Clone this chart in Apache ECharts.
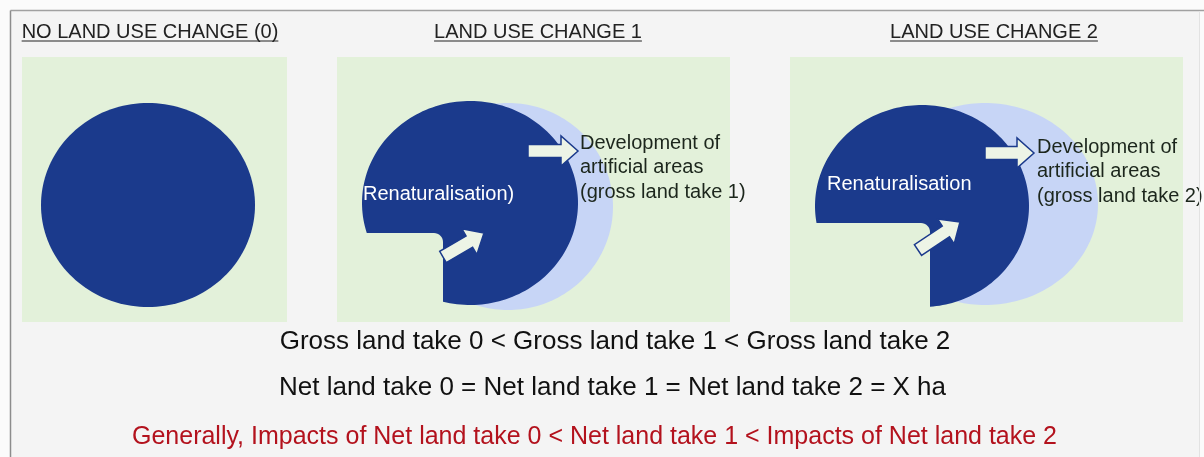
<!DOCTYPE html>
<html><head><meta charset="utf-8">
<script src="https://cdn.jsdelivr.net/npm/echarts@6/dist/echarts.min.js"></script>
<style>html,body{margin:0;padding:0;background:#fbfbfb}#c{width:1204px;height:457px}</style>
</head><body><div id="c"></div>
<script>
// ---- diagram content (diagram units = canvas pixels via hidden value axes) ----
const panelTitles = ['NO LAND USE CHANGE (0)', 'LAND USE CHANGE 1', 'LAND USE CHANGE 2'];
const panelLeft   = [22, 337, 790];
const panelRight  = [287, 730, 1183];
const panelTop    = [57, 57, 57];
const panelBottom = [322, 322, 322];
const titleCentreX = [150, 538, 994];

// land area (dark) remaining after change
const landCentreX = [148, 470, 922];
const landCentreY = [205, 203, 206];
const landRadiusX = [107, 108, 107];
const landRadiusY = [102, 102, 101];
// renaturalised corner (notch): x and y of the cut corner, null = none
const notchX = [null, 443, 930];
const notchY = [null, 233, 223];
// gross land take extent (light area), seen only right of the notch edge
const grossCentreX = [null, 508, 985];
const grossCentreY = [null, 206.5, 204];
const grossRadiusX = [null, 105, 113];
const grossRadiusY = [null, 103.5, 101];

// arrows: development arrow (tail -> tip) and renaturalisation arrow
const devTail = [null, [528, 151], [985, 153]];
const devTip  = [null, [578, 151], [1034, 153]];
const renTail = [null, [443, 257], [918, 250]];
const renTip  = [null, [484, 233], [960, 222]];

const renatLabels = [null, 'Renaturalisation)', 'Renaturalisation'];
const renatLabelX = [null, 363, 827];
const renatLabelY = [null, 194, 184];
const devLabels = [null,
  ['Development of', 'artificial areas', '(gross land take 1)'],
  ['Development of', 'artificial areas', '(gross land take 2)']];
const devLabelX = [null, 580, 1037];
const devLabelY = [null, 143, 147];

const summaryLines = [
  'Gross land take 0 < Gross land take 1 < Gross land take 2',
  'Net land take 0 = Net land take 1 = Net land take 2 = X ha',
  'Generally, Impacts of Net land take 0 < Net land take 1 < Impacts of Net land take 2'
];
const summaryX = [615, 612.5, 594.5];
const summaryY = [342, 388, 437];

// ---- styles ----
const FONT = '"Liberation Sans", Arial, Helvetica, sans-serif';
const NAVY = '#1b3a8c';
const LIGHT = '#c7d5f6';
const GREEN = '#e3f1da';
const ARROW_FILL = '#edf4e6';
const summarySize = [26, 26, 25];
const summaryColor = ['#111111', '#111111', '#b3121d'];

const measureCtx = document.createElement('canvas').getContext('2d');
function textWidth(t, size) { measureCtx.font = size + 'px ' + FONT; return measureCtx.measureText(t).width; }

function ellipsePoints(api, cx, cy, rx, ry, n, minX) {
  const pts = [];
  for (let i = 0; i < n; i++) {
    const t = i / n * Math.PI * 2;
    let x = cx + rx * Math.cos(t);
    if (minX != null && x < minX) x = minX;
    pts.push(api.coord([x, cy + ry * Math.sin(t)]));
  }
  return pts;
}
function landPoints(api, i) {
  const cx = landCentreX[i], cy = landCentreY[i], rx = landRadiusX[i], ry = landRadiusY[i];
  if (notchX[i] == null) return ellipsePoints(api, cx, cy, rx, ry, 160);
  const nx = notchX[i], ny = notchY[i];
  const t1 = Math.PI - Math.asin((ny - cy) / ry);
  const t2 = Math.acos((nx - cx) / rx) + Math.PI * 2;
  const pts = [];
  const n = 160;
  for (let k = 0; k <= n; k++) {
    const t = t1 + (t2 - t1) * k / n;
    pts.push(api.coord([cx + rx * Math.cos(t), cy + ry * Math.sin(t)]));
  }
  const r = 9;
  for (let k = 0; k <= 8; k++) {
    const a = -Math.PI / 2 * k / 8;
    pts.push(api.coord([nx - r + r * Math.cos(a), ny + r + r * Math.sin(a)]));
  }
  return pts;
}
function arrowShape(api, tail, tip) {
  const p0 = api.coord(tail), p1 = api.coord(tip);
  const dx = p1[0] - p0[0], dy = p1[1] - p0[1];
  const L = Math.hypot(dx, dy), ux = dx / L, uy = dy / L, nx = -uy, ny = ux;
  const bh = 6.5, hh = 15, hl = 17;
  const b = [p1[0] - ux * hl, p1[1] - uy * hl];
  const P = (x, y, s) => [x + nx * s, y + ny * s];
  return [P(p0[0], p0[1], bh), P(b[0], b[1], bh), P(b[0], b[1], hh), [p1[0], p1[1]],
          P(b[0], b[1], -hh), P(b[0], b[1], -bh), P(p0[0], p0[1], -bh)];
}

function renderPanel(params, api) {
  const i = api.value(0);
  const children = [];
  const tl = api.coord([panelLeft[i], panelTop[i]]), br = api.coord([panelRight[i], panelBottom[i]]);
  children.push({ type: 'rect', shape: { x: tl[0], y: tl[1], width: br[0] - tl[0], height: br[1] - tl[1] }, style: { fill: GREEN } });
  if (grossCentreX[i] != null) {
    children.push({ type: 'polygon', shape: { points: ellipsePoints(api, grossCentreX[i], grossCentreY[i], grossRadiusX[i], grossRadiusY[i], 200, notchX[i]) }, style: { fill: LIGHT } });
  }
  children.push({ type: 'polygon', shape: { points: landPoints(api, i) }, style: { fill: NAVY } });
  if (devTail[i]) {
    children.push({ type: 'polygon', shape: { points: arrowShape(api, devTail[i], devTip[i]) }, style: { fill: ARROW_FILL, stroke: NAVY, lineWidth: 1.5 } });
    children.push({ type: 'polygon', shape: { points: arrowShape(api, renTail[i], renTip[i]) }, style: { fill: ARROW_FILL, stroke: NAVY, lineWidth: 1.5 } });
    const rp = api.coord([renatLabelX[i], renatLabelY[i]]);
    children.push({ type: 'text', style: { text: renatLabels[i], x: rp[0], y: rp[1], fill: '#ffffff', font: '20px ' + FONT, textAlign: 'left', textVerticalAlign: 'middle' } });
    devLabels[i].forEach((t, k) => {
      const p = api.coord([devLabelX[i], devLabelY[i] + k * 24.5]);
      children.push({ type: 'text', style: { text: t, x: p[0], y: p[1], fill: '#1c261c', font: '20px ' + FONT, textAlign: 'left', textVerticalAlign: 'middle' } });
    });
  }
  const tp = api.coord([titleCentreX[i], 32]);
  const w = textWidth(panelTitles[i], 20);
  children.push({ type: 'text', style: { text: panelTitles[i], x: tp[0], y: tp[1], fill: '#222222', font: '20px ' + FONT, textAlign: 'center', textVerticalAlign: 'middle' } });
  children.push({ type: 'line', shape: { x1: tp[0] - w / 2, y1: tp[1] + 9, x2: tp[0] + w / 2, y2: tp[1] + 9 }, style: { stroke: '#222222', lineWidth: 1 } });
  return { type: 'group', children };
}
function renderSummary(params, api) {
  const k = api.value(0);
  const p = api.coord([summaryX[k], summaryY[k]]);
  return { type: 'text', style: { text: summaryLines[k], x: p[0], y: p[1], fill: summaryColor[k], font: summarySize[k] + 'px ' + FONT, textAlign: 'center', textVerticalAlign: 'middle' } };
}

const chart = echarts.init(document.getElementById('c'), null, { renderer: 'canvas' });
chart.setOption({
  backgroundColor: '#fbfbfb',
  animation: false,
  grid: { left: 0, right: 0, top: 0, bottom: 0 },
  xAxis: { type: 'value', min: 0, max: 1204, show: false },
  yAxis: { type: 'value', min: 0, max: 457, inverse: true, show: false },
  graphic: [
    { type: 'rect', left: 11, top: 11, shape: { width: 1188, height: 460 }, style: { fill: '#f4f4f4' }, z: -10 },
    { type: 'line', shape: { x1: 10.5, y1: 10.5, x2: 1204, y2: 10.5 }, style: { stroke: '#a0a0a0', lineWidth: 1.5 }, z: 10 },
    { type: 'line', shape: { x1: 10.5, y1: 10.5, x2: 10.5, y2: 457 }, style: { stroke: '#8c8c8c', lineWidth: 1.5 }, z: 10 },
    { type: 'line', shape: { x1: 1199.5, y1: 11, x2: 1199.5, y2: 457 }, style: { stroke: '#e2e2e2', lineWidth: 1 }, z: 10 }
  ],
  series: [
    { type: 'custom', renderItem: renderPanel, data: panelTitles.map((t, i) => [i]), clip: false, silent: true },
    { type: 'custom', renderItem: renderSummary, data: summaryLines.map((t, i) => [i]), clip: false, silent: true }
  ]
});
</script></body></html>
